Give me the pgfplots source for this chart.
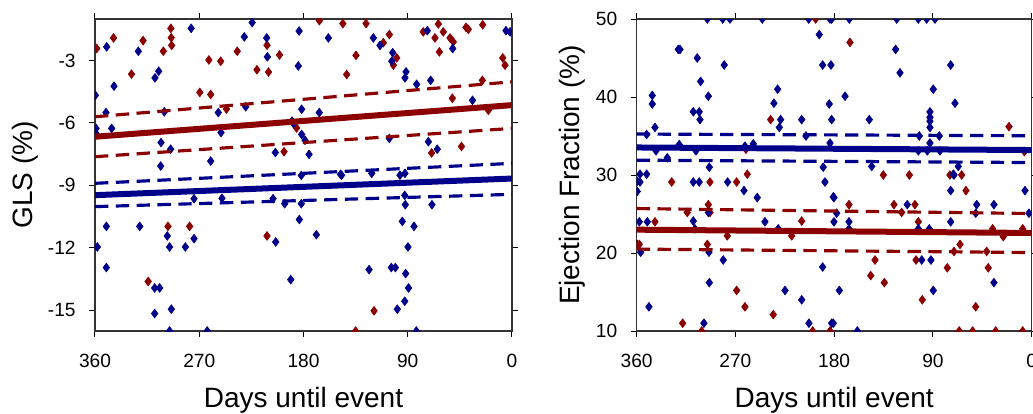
\documentclass[border=0pt]{standalone}
\usepackage{fontspec}
\setmainfont{Liberation Sans}
\usepackage{pgfplots}
\pgfplotsset{compat=1.18}
\definecolor{ptred}{HTML}{8B0000}
\definecolor{ptblue}{HTML}{00008B}
\pgfplotsset{
  panel/.style={
    scale only axis, height=187.2pt,
    xmin=0, xmax=360, x dir=reverse,
    xtick={0,90,180,270,360},
    tick align=outside, major tick length=3.6pt,
    tick style={black, line width=0.6pt},
    axis line style={black!80, line width=0.7pt},
    ticklabel style={font=\fontsize{11.5}{13}\selectfont},
    /pgf/number format/assume math mode=true,
    xlabel={Days until event},
    label style={font=\fontsize{16.8}{19}\selectfont},
    xlabel style={at={(axis description cs:0.5,0)}, anchor=base, yshift=-46pt},
    ylabel style={at={(axis description cs:0,0.5)}, anchor=base},
    xticklabel style={yshift=-6.5pt},
    yticklabel style={xshift=-4.5pt},
    clip marker paths=true,
  },
  pts/.style={only marks, mark=diamond*, mark size=2.6pt, color=#1},
  fit/.style={no marks, line width=3.6pt, color=#1},
  band/.style={no marks, line width=1.9pt, color=#1, dash pattern=on 8pt off 4.5pt},
}
\begin{document}
\begin{tikzpicture}
% ---------- GLS ----------
\begin{axis}[panel, name=L, at={(0,0)}, anchor=south west,
    width=250.2pt, ymin=-16, ymax=-1, ytick={-15,-12,-9,-6,-3},
    ylabel={GLS (\%)}, ylabel style={yshift=37.2pt}]
\addplot[pts=ptred] table {
358.5 -2.42
344 -1.91
328.5 -3.65
318.5 -2.04
301 -2.55
294.5 -1.45
294.2 -1.90
293.8 -2.27
269.5 -4.53
261.7 -2.97
260.1 -4.63
251.5 -3.03
246.5 -5.33
237.2 -2.55
220.2 -3.44
211.5 -2.26
210.2 -3.55
200.7 -2.73
196.8 -7.38
186 -6.24
166.3 -1.08
146 -1.22
142.7 -3.67
134.7 -2.75
126 -1.22
111.1 -2.14
105.9 -1.75
102.4 -3.22
99.5 -2.87
76.6 -1.62
69.4 -7.44
63.6 -1.24
66.5 -1.91
62.7 -2.58
59.3 -1.62
53.5 -1.91
50.7 -2.10
51.5 -4.81
43.6 -7.13
39.7 -1.40
37.7 -1.50
25.6 -3.95
25.3 -1.28
20.4 -5.39
8.0 -2.87
6.0 -3.22
297 -10.97
278.3 -10.97
314.1 -13.62
211.5 -11.43
119.1 -15.03
135 -16.0
};
\addplot[pts=ptblue] table {
359.7 -4.67
359.1 -6.26
358.5 -6.55
349.9 -2.34
350.5 -5.50
345.6 -6.26
343.6 -4.23
322.6 -2.55
308.2 -3.83
305 -3.51
303 -6.94
303.3 -8.07
300.2 -5.46
294.7 -7.26
277 -1.45
260.1 -7.83
253.6 -5.50
251.2 -6.46
231.1 -1.86
229.9 -5.22
224.3 -1.17
211.8 -1.91
211.2 -2.82
204.3 -7.42
189.9 -5.91
188.8 -6.02
183.8 -1.58
184.5 -3.26
181.6 -5.34
181.6 -6.55
178.7 -6.83
175.2 -7.51
166.4 -5.50
158.5 -1.91
119.7 -1.91
114.0 -2.27
105.9 -6.74
103 -2.62
103.8 -3.03
91.5 -3.54
92.4 -3.83
82.3 -4.14
73.1 -1.56
72.2 -6.90
70.2 -3.95
64.5 -7.26
51.2 -2.42
34.1 -4.91
5.2 -1.56
1.7 -1.62
121.1 -8.42
96.7 -8.51
92.4 -8.42
147.1 -8.51
274.5 -9.64
250.4 -9.62
206.3 -9.64
196.2 -9.88
181.9 -9.88
181.9 -8.52
358 -11.96
350.2 -10.97
350.2 -12.95
321.4 -10.97
297.6 -11.43
295.6 -11.96
282 -11.96
274.5 -11.56
308.5 -13.93
304.2 -13.93
308.5 -15.16
294.1 -14.95
295.6 -16.0
263.1 -16.0
204 -11.72
191 -13.53
183.6 -10.64
168.9 -11.37
123.4 -13.05
104.2 -12.95
100.7 -12.95
94.7 -10.73
84.6 -10.97
92.1 -9.93
92.6 -9.48
69.1 -9.93
89.8 -11.96
91.8 -13.24
89.3 -13.93
92.6 -14.57
99.0 -14.95
82.6 -16.0
148 -8.47
};
\addplot[fit=ptred] coordinates {(360,-6.66) (0,-5.14)};
\addplot[band=ptred] coordinates {(360,-5.70) (0,-4.02)};
\addplot[band=ptred] coordinates {(360,-7.62) (0,-6.26)};
\addplot[fit=ptblue] coordinates {(360,-9.47) (0,-8.67)};
\addplot[band=ptblue] coordinates {(360,-8.90) (0,-7.94)};
\addplot[band=ptblue] coordinates {(360,-10.02) (0,-9.43)};
\end{axis}
% ---------- Ejection fraction ----------
\begin{axis}[panel, name=R, at={(325pt,0)}, anchor=south west,
    width=237pt, ymin=10, ymax=50, ytick={10,20,30,40,50},
    ylabel={Ejection Fraction (\%)}, ylabel style={yshift=34.2pt}]
\addplot[pts=ptred] table {
196.9 50
165.6 47.0
237.9 37.1
260.4 33.3
259.2 30.1
20.7 36.2
135.2 30.0
111.5 30.0
74.5 30.0
63.8 30.0
6.7 33.0
328.1 29.1
293.2 29.1
268.9 29.1
313.9 25.2
294.7 26.2
293.2 25.2
343.3 24.0
209.6 24.1
277.4 22.2
218.7 22.2
357.6 21.1
359.5 21.1
295.6 21.1
268.9 15.2
261.3 13.1
235.5 12.1
318.1 11.0
300.8 10
199.6 10
183.8 10
59.9 28.0
166.5 26.2
125.5 26.2
106.4 26.2
118.5 25.2
103.3 24.0
35.6 23.1
25.9 22.1
8.2 23.1
65.3 21.1
70.8 20.2
41.0 20.2
142.8 19.1
105.4 19.1
76.9 18.1
39.6 18.1
146.7 17.1
134.3 16.2
99.7 14.0
51.0 13.1
66 10
53.8 10
32.8 10
8.2 10
};
\addplot[pts=ptblue] table {
295.6 50
281.6 50
275 50
245.5 50
203.2 50
183.8 50
182.3 50
166.2 50
123 50
103.3 50
95.7 50
88.1 50
193.6 48.0
322.1 46.1
320.5 46.1
304.8 45.0
280.2 44.1
190.5 44.1
182.9 44.1
301.7 42.0
345.8 40.2
345.8 39.1
294.7 40.1
231.5 41.0
234.9 39.2
308.4 38.1
303 38.1
302.3 37.1
343.3 36.1
228.8 37.1
230 36.1
209.6 37.1
182.3 37.1
184.5 39.1
205.7 35.0
321.2 33.9
306 33.1
261.3 33.7
253.7 34.0
342.4 33.1
183.8 34.1
350.9 35.2
332.1 32.2
293.8 31.0
190 31.0
357 30.1
350.9 30.1
124 46.1
73.8 44.1
120 43.1
89.7 41.0
170.1 40.1
69.9 39.2
92.7 38.1
92.7 37.4
92.7 36.9
92.7 36.1
148 37.1
102.4 35.0
84.2 35.0
103.3 33.1
95.1 33.1
83.6 33.1
92.7 34.1
66.9 31.1
145.8 31.1
359.5 29.2
357 29.1
308.4 29.1
303 29.1
277.1 29.1
262.2 28.0
250.1 27.1
188.4 29.1
180.8 27.2
294.7 25.2
357.6 24.0
350.3 24.0
308.4 24.1
306.9 23.1
243.1 24.0
231 23.1
356.4 20.1
294.1 20.1
281.1 19.1
190.5 18.2
293.8 16.2
224.8 15.2
348.8 13.1
209.6 14.0
298.7 11.0
203 11.0
182.3 11.0
70.8 30.0
180.2 27.1
73.8 28.0
6.1 28.0
177.7 25.1
113.4 26.2
50.1 26.2
51.0 25.1
34.4 26.2
2.5 25.1
180.2 24.0
166.5 24.0
166.5 23.1
103.3 23.1
93.3 23.1
73.8 24.0
100.2 19.1
91.8 19.1
34.4 16.2
175.3 15.2
89.7 15.2
180.8 11.0
158.9 10.0
359.5 27.9
71.4 30.1
};
\addplot[fit=ptblue] coordinates {(360,33.53) (0,33.2)};
\addplot[band=ptblue] coordinates {(360,35.25) (0,35.03)};
\addplot[band=ptblue] coordinates {(360,31.9) (0,31.6)};
\addplot[fit=ptred] coordinates {(360,22.99) (0,22.57)};
\addplot[band=ptred] coordinates {(360,25.7) (0,25.06)};
\addplot[band=ptred] coordinates {(360,20.5) (0,20.06)};
\end{axis}
\pgfresetboundingbox
\path[use as bounding box] (-57pt,-49.8pt) rectangle (562.8pt,198.6pt);
\end{tikzpicture}
\end{document}
